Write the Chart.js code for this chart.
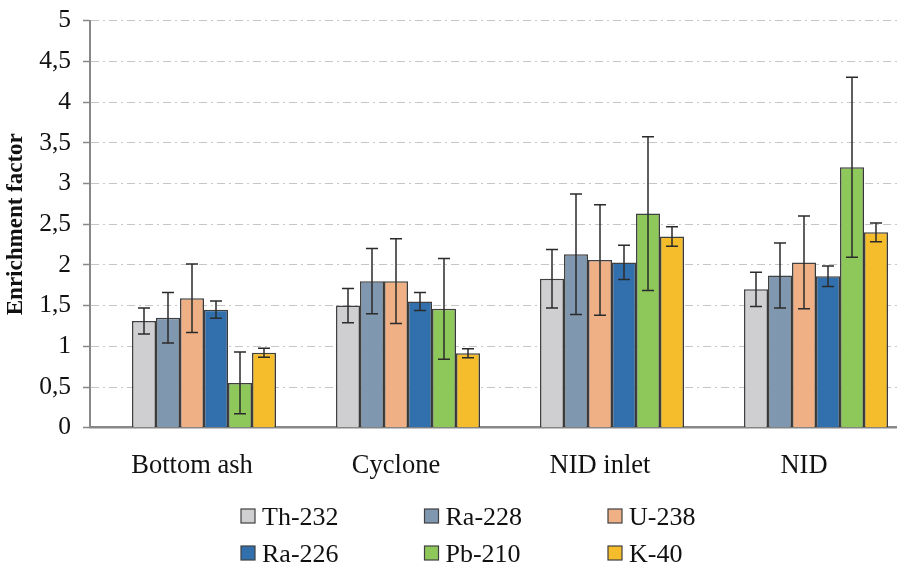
<!DOCTYPE html>
<html>
<head>
<meta charset="utf-8">
<script src="https://cdn.jsdelivr.net/npm/chart.js@4"></script>
<style>
  html, body { margin: 0; padding: 0; background: #fff; overflow: hidden; }
  #wrap { position: absolute; left: 0; top: 0; width: 910px; height: 565px; }
</style>
</head>
<body>
<div id="wrap"><canvas id="c" width="910" height="565"></canvas></div>
<script>
// Enrichment factors of natural radionuclides per sampling point
const categories = ['Bottom ash', 'Cyclone', 'NID inlet', 'NID'];
const seriesNames = ['Th-232', 'Ra-228', 'U-238', 'Ra-226', 'Pb-210', 'K-40'];

const th232 = [1.31, 1.50, 1.83, 1.70];
const ra228 = [1.35, 1.80, 2.13, 1.87];
const u238  = [1.59, 1.80, 2.06, 2.03];
const ra226 = [1.45, 1.55, 2.03, 1.86];
const pb210 = [0.55, 1.46, 2.63, 3.20];
const k40   = [0.92, 0.915, 2.35, 2.40];

// standard deviations (symmetric error bars)
const th232Err = [0.16, 0.21, 0.36, 0.21];
const ra228Err = [0.31, 0.40, 0.74, 0.40];
const u238Err  = [0.42, 0.52, 0.68, 0.57];
const ra226Err = [0.105, 0.11, 0.21, 0.125];
const pb210Err = [0.38, 0.62, 0.945, 1.105];
const k40Err   = [0.055, 0.055, 0.12, 0.115];

const yTickLabels = ['0', '0,5', '1', '1,5', '2', '2,5', '3', '3,5', '4', '4,5', '5'];

const colors = ['#cfcfd1', '#8097b0', '#efb086', '#3170ad', '#8ec85b', '#f5bd2b'];
const values = [th232, ra228, u238, ra226, pb210, k40];
const errors = [th232Err, ra228Err, u238Err, ra226Err, pb210Err, k40Err];

const FONT = "'Liberation Serif', 'Times New Roman', serif";

// first slot in each group is left empty, as in the original workbook layout
const datasets = [{
  label: 'spacer',
  data: categories.map(() => null),
  backgroundColor: 'rgba(0,0,0,0)',
  borderWidth: 0,
  isSpacer: true
}].concat(seriesNames.map((name, i) => ({
  label: name,
  data: values[i],
  errors: errors[i],
  backgroundColor: colors[i],
  borderColor: '#404040',
  borderWidth: 1.5,
  clip: false
})));

const barShadow = {
  id: 'barShadow',
  beforeDatasetsDraw(chart) {
    const ctx = chart.ctx;
    ctx.save();
    ctx.shadowColor = 'rgba(0,0,0,0.18)';
    ctx.shadowOffsetX = 1.5;
    ctx.shadowOffsetY = 2;
    ctx.shadowBlur = 2;
  },
  afterDatasetsDraw(chart) {
    chart.ctx.restore();
  }
};

const errorBars = {
  id: 'errorBars',
  afterDatasetsDraw(chart) {
    const ctx = chart.ctx;
    const y = chart.scales.y;
    ctx.save();
    ctx.strokeStyle = '#2b2b2b';
    ctx.lineWidth = 1.5;
    chart.data.datasets.forEach((ds, di) => {
      if (!ds.errors) return;
      const meta = chart.getDatasetMeta(di);
      meta.data.forEach((bar, j) => {
        const v = ds.data[j], e = ds.errors[j];
        const x = bar.x;
        const yTop = y.getPixelForValue(v + e);
        const yBot = y.getPixelForValue(v - e);
        const cap = 6;
        ctx.beginPath();
        ctx.moveTo(x, yTop); ctx.lineTo(x, yBot);
        ctx.moveTo(x - cap, yTop); ctx.lineTo(x + cap, yTop);
        ctx.moveTo(x - cap, yBot); ctx.lineTo(x + cap, yBot);
        ctx.stroke();
      });
    });
    ctx.restore();
  }
};

// legend laid out as a 3-column grid below the plot
const gridLegend = {
  id: 'gridLegend',
  afterDraw(chart) {
    const ctx = chart.ctx;
    const items = chart.data.datasets.filter(d => !d.isSpacer);
    const colX = [241, 424.5, 608];
    const rowBase = [525, 562];
    ctx.save();
    ctx.font = '26px ' + FONT;
    ctx.textBaseline = 'alphabetic';
    ctx.textAlign = 'left';
    items.forEach((d, k) => {
      const cx = colX[k % 3];
      const by = rowBase[Math.floor(k / 3)];
      ctx.fillStyle = d.backgroundColor;
      ctx.fillRect(cx, by - 16, 14, 14);
      ctx.strokeStyle = '#404040';
      ctx.lineWidth = 1.2;
      ctx.strokeRect(cx, by - 16, 14, 14);
      ctx.fillStyle = '#111';
      ctx.fillText(d.label, cx + 21, by);
    });
    ctx.restore();
  }
};

new Chart(document.getElementById('c'), {
  type: 'bar',
  data: { labels: categories, datasets },
  options: {
    responsive: false,
    animation: false,
    layout: { padding: { top: 20.7, right: 4, left: 0, bottom: 0 } },
    datasets: { bar: { categoryPercentage: 168 / 204, barPercentage: 1 } },
    plugins: {
      legend: { display: false },
      tooltip: { enabled: false }
    },
    scales: {
      x: {
        grid: { display: false, drawTicks: false },
        border: { color: '#888888', width: 2.5 },
        ticks: { color: '#111', font: { family: FONT, size: 26.5 }, padding: 22, maxRotation: 0 },
        afterFit(scale) { scale.height = 137.3; }
      },
      y: {
        min: 0, max: 5,
        ticks: {
          stepSize: 0.5,
          color: '#111',
          font: { family: FONT, size: 25.5 },
          padding: 12,
          callback: (v) => yTickLabels[Math.round(v * 2)]
        },
        grid: {
          color: '#c6c6c6',
          lineWidth: 1,
          tickColor: '#888888',
          tickLength: 7,
          tickWidth: 1.5,
          tickBorderDash: []
        },
        border: { color: '#888888', width: 2, dash: [8, 4, 2, 4] },
        title: {
          display: true,
          text: 'Enrichment factor',
          color: '#111',
          font: { family: FONT, size: 23, weight: 'bold' },
          padding: { top: 2, bottom: 0 }
        },
        afterFit(scale) {
          scale.width = 90;
          scale.paddingTop = 0;
          scale.paddingBottom = 0;
        }
      }
    }
  },
  plugins: [barShadow, errorBars, gridLegend]
});
</script>
</body>
</html>
